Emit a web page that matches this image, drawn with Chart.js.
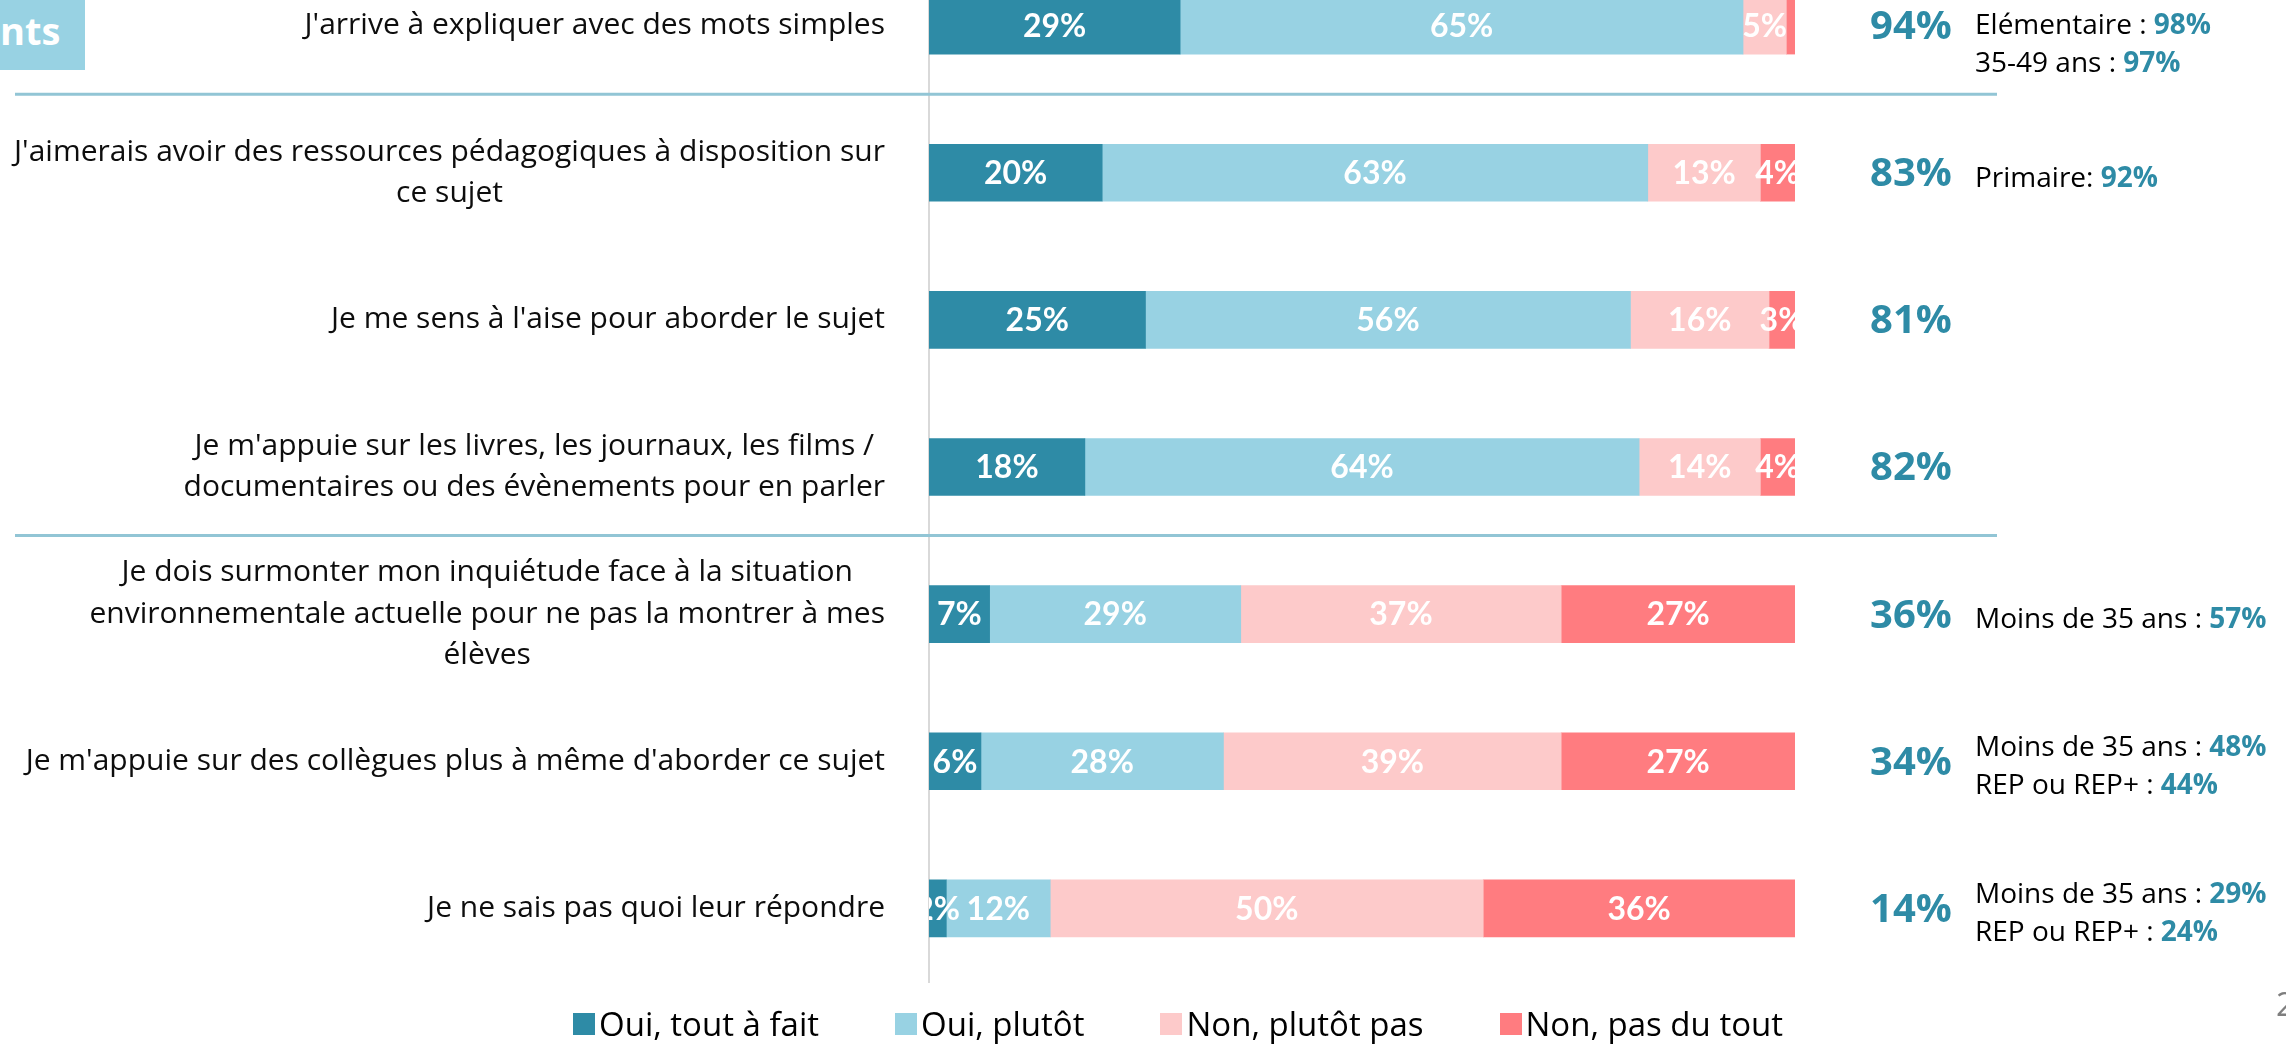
<!DOCTYPE html>
<html lang="fr">
<head>
<meta charset="utf-8">
<script src="https://cdn.jsdelivr.net/npm/chart.js@4"></script>
<style>
  html, body { margin: 0; padding: 0; background: #fff; }
  body { width: 2286px; height: 1044px; overflow: hidden; position: relative; font-family: "Open Sans", sans-serif; }
  #wrap { position: absolute; left: 0; top: -48px; width: 2286px; height: 1092px; }
  #tag { position: absolute; left: 0; top: 0; width: 85px; height: 70px; background: #98D2E3; color: #fff;
         font: bold 38px "Open Sans", sans-serif; line-height: 60px; text-align: right; box-sizing: border-box; padding-right: 28px; overflow: hidden; white-space: nowrap; }
  #legend { position: absolute; left: 573px; top: 1001px; display: flex; align-items: center; font: 33px "Open Sans", sans-serif; color: #000; white-space: nowrap; }
  #legend .item { display: flex; align-items: center; margin-right: 76px; }
  #legend .box { width: 22px; height: 22px; margin-right: 4px; }
  #page { position: absolute; left: 2276px; top: 982px; font: 32px "Open Sans", sans-serif; color: #7F7F7F; }
</style>
</head>
<body>
<div id="tag">nts</div>
<div id="wrap"><canvas id="chart"></canvas></div>
<div id="legend"></div>
<div id="page">2</div>
<script>
// Questions (one per bar), split the way they wrap on the slide
const questions = [
    ["J'arrive à expliquer avec des mots simples"],
    ["J'aimerais avoir des ressources pédagogiques à disposition sur", "ce sujet"],
    ["Je me sens à l'aise pour aborder le sujet"],
    ["Je m'appuie sur les livres, les journaux, les films /", "documentaires ou des évènements pour en parler"],
    ["Je dois surmonter mon inquiétude face à la situation", "environnementale actuelle pour ne pas la montrer à mes", "élèves"],
    ["Je m'appuie sur des collègues plus à même d'aborder ce sujet"],
    ["Je ne sais pas quoi leur répondre"]
];

const seriesNames = ['Oui, tout à fait', 'Oui, plutôt', 'Non, plutôt pas', 'Non, pas du tout'];
const seriesColors = ['#2E8BA6', '#98D2E3', '#FDCACA', '#FF7C80'];

const ouiToutAFait = [29, 20, 25, 18, 7, 6, 2];
const ouiPlutot = [65, 63, 56, 64, 29, 28, 12];
const nonPlutotPas = [5, 13, 16, 14, 37, 39, 50];
const nonPasDuTout = [1, 4, 3, 4, 27, 27, 36];

// "Total Oui" shown to the right of each bar
const totalOui = ['94%', '83%', '81%', '82%', '36%', '34%', '14%'];

// sub-group highlights next to the totals: [label, value]
const highlights = [
    [['Elémentaire : ', '98%'], ['35-49 ans : ', '97%']],
    [['Primaire: ', '92%']],
    [],
    [],
    [['Moins de 35 ans : ', '57%']],
    [['Moins de 35 ans : ', '48%'], ['REP ou REP+ : ', '44%']],
    [['Moins de 35 ans : ', '29%'], ['REP ou REP+ : ', '24%']]
];

// separator lines are drawn after these rows
const groupBreaks = [0, 3];

const teal = '#2E8BA6';

// Draws the value labels, question texts, separators, totals and highlights
const slideText = {
    id: 'slideText',
    afterDatasetsDraw(chart) {
        const ctx = chart.ctx;
        const area = chart.chartArea;
        ctx.save();
        ctx.beginPath();
        ctx.rect(area.left, area.top, area.right - area.left, area.bottom - area.top);
        ctx.clip();
        ctx.font = 'bold 32px Lato';
        ctx.fillStyle = '#fff';
        ctx.textAlign = 'center';
        ctx.textBaseline = 'middle';
        chart.data.datasets.forEach((ds, i) => {
            const meta = chart.getDatasetMeta(i);
            meta.data.forEach((bar, j) => {
                const v = ds.data[j];
                if (v < 2) return;
                ctx.fillText(v + '%', (bar.x + bar.base) / 2, bar.y + 1);
            });
        });
        ctx.restore();
    },
    afterDraw(chart) {
        const ctx = chart.ctx;
        const y = chart.scales.y;
        ctx.save();

        // question labels, block right aligned, lines centred inside the block
        ctx.font = '30px "Open Sans"';
        ctx.fillStyle = '#0D0D0D';
        ctx.textAlign = 'center';
        ctx.textBaseline = 'middle';
        const lh = 41.5;
        questions.forEach((lines, i) => {
            const cy = y.getPixelForValue(i);
            const w = Math.max(...lines.map(l => ctx.measureText(l).width));
            const cx = 885 - w / 2;
            lines.forEach((l, k) => {
                ctx.fillText(l, cx, cy + (k - (lines.length - 1) / 2) * lh);
            });
        });

        // separators
        ctx.strokeStyle = '#92C5D5';
        ctx.lineWidth = 3;
        groupBreaks.forEach(b => {
            const sy = (y.getPixelForValue(b) + y.getPixelForValue(b + 1)) / 2 - 5;
            ctx.beginPath();
            ctx.moveTo(15, sy);
            ctx.lineTo(1997, sy);
            ctx.stroke();
        });

        // totals
        ctx.font = 'bold 40px "Open Sans"';
        ctx.fillStyle = teal;
        ctx.textAlign = 'center';
        totalOui.forEach((t, i) => {
            ctx.fillText(t, 1911, y.getPixelForValue(i) + 2);
        });

        // highlights
        ctx.textAlign = 'left';
        highlights.forEach((rows, i) => {
            const cy = y.getPixelForValue(i);
            const start = i === 0 ? cy : cy + 6 - (rows.length - 1) * 38 / 2;
            rows.forEach((r, k) => {
                const ly = start + k * 38;
                ctx.font = '28px "Open Sans"';
                ctx.fillStyle = '#000';
                ctx.fillText(r[0], 1975, ly);
                const w = ctx.measureText(r[0]).width;
                ctx.font = 'bold 28px "Open Sans"';
                ctx.fillStyle = teal;
                ctx.fillText(r[1], 1975 + w, ly);
            });
        });
        ctx.restore();
    }
};

const seriesValues = [ouiToutAFait, ouiPlutot, nonPlutotPas, nonPasDuTout];

const chart = new Chart(document.getElementById('chart'), {
    type: 'bar',
    data: {
        labels: questions.map(q => q.join(' ')),
        datasets: seriesNames.map((name, i) => ({
            label: name,
            data: seriesValues[i],
            backgroundColor: seriesColors[i],
            borderWidth: 0,
            barThickness: 57
        }))
    },
    options: {
        indexAxis: 'y',
        responsive: true,
        maintainAspectRatio: false,
        animation: false,
        devicePixelRatio: 1,
        layout: { padding: { left: 0, right: 491, top: 0, bottom: 62 } },
        scales: {
            x: { stacked: true, min: 0, max: 100, display: false },
            y: {
                stacked: true,
                grid: { display: false },
                border: { display: true, color: '#D9D9D9', width: 2 },
                ticks: { display: false },
                afterFit: (scale) => { scale.width = 929; }
            }
        },
        plugins: {
            legend: { display: false },
            tooltip: { enabled: false }
        }
    },
    plugins: [slideText]
});

// legend built from the chart's datasets
const legend = document.getElementById('legend');
chart.data.datasets.forEach(ds => {
    const item = document.createElement('div');
    item.className = 'item';
    const box = document.createElement('span');
    box.className = 'box';
    box.style.background = ds.backgroundColor;
    const label = document.createElement('span');
    label.textContent = ds.label;
    item.appendChild(box);
    item.appendChild(label);
    legend.appendChild(item);
});
</script>
</body>
</html>
